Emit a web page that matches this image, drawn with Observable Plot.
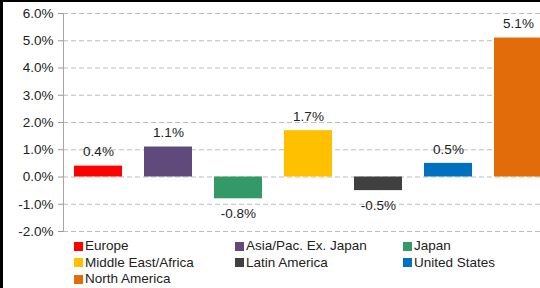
<!DOCTYPE html>
<html>
<head>
<meta charset="utf-8">
<script src="https://cdn.jsdelivr.net/npm/d3@7"></script>
<script src="https://cdn.jsdelivr.net/npm/@observablehq/plot@0.6"></script>
<style>
  html, body { margin: 0; padding: 0; background: #fff; overflow: hidden; width: 540px; height: 288px; }
  #wrap { position: relative; width: 540px; height: 288px; overflow: hidden; font-family: "Liberation Sans", Arial, sans-serif; }
  #chart { position: absolute; left: 0; top: 0; width: 553px; }
  #chart svg { max-width: none !important; }
  #border { position: absolute; left: 0; top: 0; width: 600px; height: 400px; border-top: 2px solid #000; border-left: 3px solid #000; box-sizing: border-box; pointer-events: none; }
  #legend { position: absolute; left: 74px; top: 238px; display: grid; grid-template-columns: 161px 168px 160px; font-size: 13.5px; color: #222; line-height: 16.6px; }
  .item { display: flex; align-items: center; white-space: nowrap; }
  .sw { width: 9px; height: 9px; margin-right: 2px; flex: none; }
</style>
</head>
<body>
<div id="wrap">
  <div id="chart"></div>
  <div id="legend"></div>
  <div id="border"></div>
</div>
<script>
const categories = ["Europe", "Asia/Pac. Ex. Japan", "Japan", "Middle East/Africa", "Latin America", "United States", "North America"];
const values = [0.4, 1.1, -0.8, 1.7, -0.5, 0.5, 5.1];
const colors = ["#FF0000", "#604A7B", "#339966", "#FFC000", "#404040", "#0070C0", "#E36C0A"];
const yTicks = [-2, -1, 0, 1, 2, 3, 4, 5, 6];

const data = categories.map((c, i) => ({category: c, value: values[i], color: colors[i]}));
const fmt = d => d.toFixed(1) + "%";

const chart = Plot.plot({
  width: 553,
  height: 236,
  marginLeft: 63,
  marginRight: 0,
  marginTop: 13,
  marginBottom: 5,
  style: {fontFamily: "'Liberation Sans', Arial, sans-serif", fontSize: "13.5px", color: "#222", background: "transparent", overflow: "visible", maxWidth: "none"},
  x: {domain: categories, paddingInner: 0.314, paddingOuter: 0.157, axis: null},
  y: {domain: [-2, 6], ticks: yTicks, label: null},
  color: {domain: categories, range: colors},
  marks: [
    Plot.gridY(yTicks, {stroke: "#bdbdbd", strokeOpacity: 1, strokeDasharray: "5,3"}),
    Plot.barY(data, {x: "category", y: "value", fill: "category"}),
    Plot.axisY(yTicks, {tickFormat: fmt, tickSize: 5, tickPadding: 5, stroke: "#999", fill: "#222", fontSize: 13.5, label: null}),
    Plot.frame({anchor: "left", stroke: "#a6a6a6"}),
    Plot.text(data.filter(d => d.value >= 0), {x: "category", y: "value", text: d => fmt(d.value), dy: -14, fill: "#222", fontSize: 13.5}),
    Plot.text(data.filter(d => d.value < 0), {x: "category", y: "value", text: d => fmt(d.value), dy: 15, fill: "#222", fontSize: 13.5})
  ]
});
document.getElementById("chart").appendChild(chart);

const legend = document.getElementById("legend");
categories.forEach((c, i) => {
  const it = document.createElement("div");
  it.className = "item";
  const sw = document.createElement("span");
  sw.className = "sw";
  sw.style.background = colors[i];
  const t = document.createElement("span");
  t.textContent = c;
  it.appendChild(sw);
  it.appendChild(t);
  legend.appendChild(it);
});
</script>
</body>
</html>
